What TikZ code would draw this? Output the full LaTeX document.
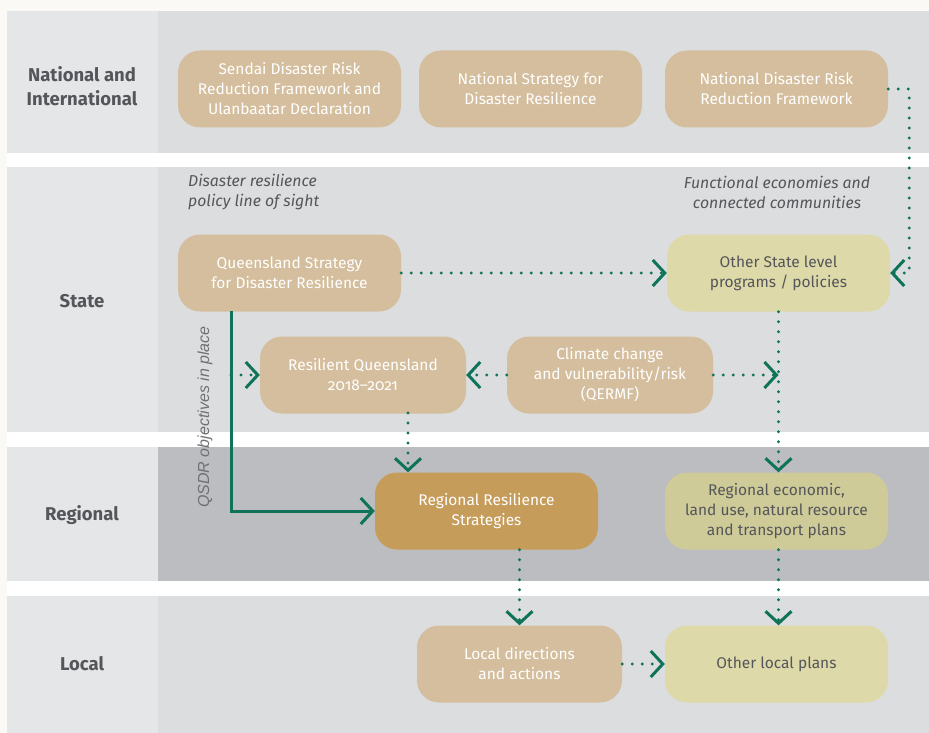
\documentclass[tikz,border=0pt]{standalone}
\usepackage{fontspec}
\setmainfont{Fira Sans}
\newfontfamily\arialit{Liberation Sans}
\usetikzlibrary{arrows.meta}
\definecolor{cream}{HTML}{FAF9F5}
\definecolor{labcol}{HTML}{E5E6E8}
\definecolor{content}{HTML}{DCDDDF}
\definecolor{regcontent}{HTML}{BCBDC0}
\definecolor{tan}{HTML}{D4BE9D}
\definecolor{gold}{HTML}{C69C5B}
\definecolor{olive}{HTML}{DDD9A8}
\definecolor{olivedk}{HTML}{CFCB98}
\definecolor{grn}{HTML}{0E7358}
\definecolor{txtgray}{HTML}{54565A}
\definecolor{qgray}{HTML}{707174}
\tikzset{
  box/.style={rectangle, rounded corners=22pt, minimum width=223pt, minimum height=77pt,
    align=center, inner sep=0pt, font=\fontsize{15.5}{20}\selectfont},
  tanbox/.style={box, fill=tan, text=white},
  goldbox/.style={box, fill=gold, text=white},
  olivebox/.style={box, fill=olive, text=txtgray},
  bandlab/.style={font=\fontsize{18.5}{24}\selectfont\bfseries, text=txtgray, align=center},
  itlab/.style={font=\fontsize{15.8}{20}\selectfont\itshape, text=txtgray},
  chev/.tip={Straight Barb[length=12pt,width=26pt,line width=3pt]},
  dots/.style={draw=grn, line width=3.2pt, line cap=round, dash pattern=on 0pt off 10pt, -chev},
  solidg/.style={draw=grn, line width=3pt, -chev},
}
\begin{document}
\begin{tikzpicture}[x=1pt,y=-1pt]
\useasboundingbox (0,0) rectangle (929,733);
\fill[cream] (0,0) rectangle (929,733);
% bands
\fill[white] (7,11) rectangle (929,733);
\fill[labcol] (7,11) rectangle (158,153);
\fill[content] (158,11) rectangle (929,153);
\fill[labcol] (7,167) rectangle (158,432);
\fill[content] (158,167) rectangle (929,432);
\fill[labcol] (7,447) rectangle (158,581);
\fill[regcontent] (158,447) rectangle (929,581);
\fill[labcol] (7,596) rectangle (158,733);
\fill[content] (158,596) rectangle (929,733);
% band labels
\node[bandlab] (lnat) at (82,86) {National and\\International};
\node[bandlab] (lstate) at (82,301) {State};
\node[bandlab] (lreg) at (82,515) {Regional};
\node[bandlab] (lloc) at (82,664) {Local};
% italic headings
\node[itlab, align=left, anchor=west, inner sep=0pt] (h1) at (188,192) {Disaster resilience\\policy line of sight};
\node[itlab, align=center] (h2) at (777,192) {Functional economies and\\connected communities};
\node[font=\arialit\fontsize{16}{18}\selectfont\itshape, text=qgray, rotate=90] (qlab) at (205,417) {QSDR objectives in place};
% nodes
\node[tanbox] (sendai) at (289.5,89) {Sendai Disaster Risk\\Reduction Framework and\\Ulanbaatar Declaration};
\node[tanbox] (nsdr) at (530.5,89) {National Strategy for\\Disaster Resilience};
\node[tanbox] (ndrrf) at (776.5,89) {National Disaster Risk\\Reduction Framework};
\node[tanbox] (qsdr) at (289.5,273) {Queensland Strategy\\for Disaster Resilience};
\node[olivebox] (ostate) at (778.5,273) {Other State level\\programs / policies};
\node[tanbox, minimum width=206pt] (rq) at (363,375) {Resilient Queensland\\{\addfontfeatures{Numbers=OldStyle}2018--2021}};
\node[tanbox, minimum width=206pt] (cc) at (610,375) {Climate change\\and vulnerability/risk\\(QERMF)};
\node[goldbox] (rrs) at (486.5,511) {Regional Resilience\\Strategies};
\node[olivebox, fill=olivedk] (rec) at (776.5,511) {Regional economic,\\land use, natural resource\\and transport plans};
\node[tanbox, minimum width=205pt] (ld) at (519.5,664) {Local directions\\and actions};
\node[olivebox] (olp) at (776.5,664) {Other local plans};
% connectors
\draw[dots] (ndrrf.east) -- ++(21,0) |- (ostate.east);
\draw[dots] (qsdr.east) -- (ostate.west);
\coordinate (qa) at (231,311);
\draw[solidg] (qa) |- (rrs.west);
\draw[dots] (rq.west -| qa) -- (rq.west);
\draw[dots] (cc.west) -- (rq.east);
\draw[dots] (cc.east) -- (cc.east -| ostate.south);
\draw[dots] (ostate.south) -- (ostate.south |- rec.north);
\coordinate (rqb) at (408,413);
\draw[dots] (rqb) -- (rqb |- rrs.north);
\draw[dots] (ld.north |- rrs.south) -- (ld.north);
\draw[dots] (ostate.south |- rec.south) -- (ostate.south |- olp.north);
\draw[dots] (ld.east) -- (olp.west);
\end{tikzpicture}
\end{document}
